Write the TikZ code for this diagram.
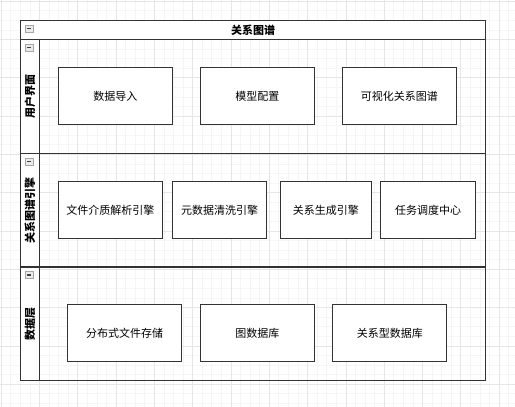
\documentclass[tikz,border=0pt]{standalone}
\usepackage{fontspec}
\setmainfont{Noto Sans CJK SC}
\usetikzlibrary{positioning}
\definecolor{gridmin}{HTML}{F5F5F5}
\definecolor{gridmaj}{HTML}{E6E6E6}
\definecolor{ink}{HTML}{333333}
\tikzset{
  box/.style={draw=ink, fill=white, line width=0.9pt, minimum height=57pt,
    inner sep=0pt, font=\fontsize{11}{13}\selectfont},
  lanelabel/.style={rotate=90, font=\bfseries\fontsize{11}{13}\selectfont},
  frame/.style={draw=ink, line width=1.2pt},
  fold/.style={draw=black!35, fill=black!8, minimum width=8pt, minimum height=7pt,
    inner sep=0pt,
    path picture={\draw[black!75, line width=1.3pt]
      ([xshift=-2.2pt]path picture bounding box.center) --
      ([xshift=2.2pt]path picture bounding box.center);}}
}

\begin{document}
\begin{tikzpicture}[x=1pt, y=-1pt]
    \useasboundingbox (0,0) rectangle (515,407);
    \fill[white] (0,0) rectangle (515,407);
    \begin{scope}[shift={(1,1)}]
      \draw[gridmin, step=9.575pt] (-1,-1) grid (514,406);
      \draw[gridmaj, step=38.3pt] (-1,-1) grid (514,406);
    \end{scope}

    % pool with three lanes
    \fill[white] (20.7,20.7) rectangle (485.3,39.3);
    \fill[white] (20.7,39.3) rectangle (39.3,380.3);
    \draw[frame] (20.7,20.7) rectangle (485.3,380.3);
    \draw[frame] (20.7,39.3) -- (485.3,39.3);
    \draw[frame] (39.3,39.3) -- (39.3,380.3);
    \draw[frame] (20.7,153.3) -- (485.3,153.3);
    \draw[frame] (20.7,267) -- (485.3,267);

    \node[font=\bfseries\fontsize{11}{13}\selectfont] (title) at (253,30) {关系图谱};
    \node[fold] (f0) at (29,28.5) {};
    \node[fold] (f1) at (29,47.5) {};
    \node[fold] (f2) at (29,161.7) {};
    \node[fold] (f3) at (29,275) {};

    \node[lanelabel] (ui) at (30,96.3) {用户界面};
    \node[lanelabel] (engine) at (30,210) {关系图谱引擎};
    \node[lanelabel] (data) at (30,323.7) {数据层};

    % lane 1
    \node[box, minimum width=114pt] (imp) at (115.3,96.2) {数据导入};
    \node[box, minimum width=114pt] (cfg) [right=27.1pt of imp] {模型配置};
    \node[box, minimum width=114pt] (vis) [right=27.1pt of cfg] {可视化关系图谱};

    % lane 2
    \node[box, minimum width=104.4pt] (parse) at (110.5,210) {文件介质解析引擎};
    \node[box, minimum width=94.4pt] (clean) [right=8.7pt of parse] {元数据清洗引擎};
    \node[box, minimum width=91pt] (rel) [right=12.7pt of clean] {关系生成引擎};
    \node[box, minimum width=94.6pt] (sched) [right=8.5pt of rel] {任务调度中心};

    % lane 3
    \node[box, minimum width=114pt] (dfs) at (124.7,333.2) {分布式文件存储};
    \node[box, minimum width=114pt] (gdb) [right=17.7pt of dfs] {图数据库};
    \node[box, minimum width=114pt] (rdb) [right=17.7pt of gdb] {关系型数据库};
\end{tikzpicture}
\end{document}
